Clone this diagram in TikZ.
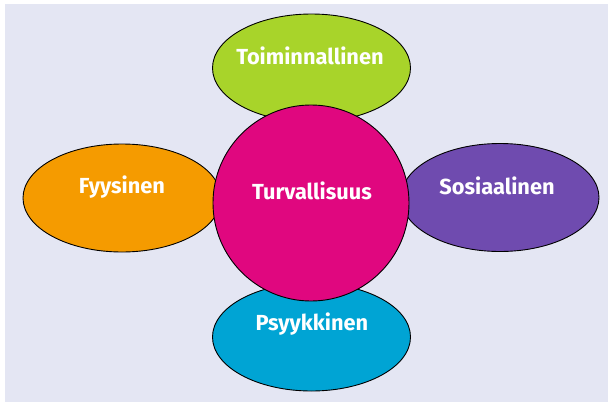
\documentclass[tikz,border=0pt]{standalone}
\usepackage{fontspec}
\setmainfont{Fira Sans}
\usetikzlibrary{shapes.geometric}
\definecolor{bgc}{HTML}{E4E6F3}
\definecolor{cgreen}{HTML}{A8D42A}
\definecolor{cmag}{HTML}{E0077F}
\definecolor{corange}{HTML}{F59B00}
\definecolor{cpurple}{HTML}{6F4BAF}
\definecolor{cblue}{HTML}{00A4D4}
\tikzset{
  petal/.style={ellipse, draw=black, line width=0.9pt, minimum width=198pt, minimum height=108pt, inner sep=0pt},
  lbl/.style={text=white, font=\bfseries\fontsize{21.8}{24}\selectfont, inner sep=0pt, anchor=center}
}
\begin{document}
\begin{tikzpicture}[x=1pt,y=-1pt]
\useasboundingbox (0,0) rectangle (608,402);
\fill[white] (0,0) rectangle (608,402);
\fill[bgc] (5,4) rectangle (608,402);
\node[petal, fill=cgreen] (top) at (311.5,68) {};
\node[petal, fill=cblue] (bottom) at (311.5,337) {};
\node[petal, fill=corange] (left) at (122,198) {};
\node[petal, fill=cpurple] (right) at (500,197.5) {};
\node[circle, draw=black, line width=0.9pt, fill=cmag, minimum size=196pt, inner sep=0pt] (center) at (311,203) {};
\node[lbl] (ttop) at (310,56) {Toiminnallinen};
\node[lbl] (tbottom) at (312,324) {Psyykkinen};
\node[lbl] (tleft) at (122,187) {Fyysinen};
\node[lbl] (tright) at (497,186) {Sosiaalinen};
\node[lbl] (tcenter) at (312,191) {Turvallisuus};
\end{tikzpicture}
\end{document}
